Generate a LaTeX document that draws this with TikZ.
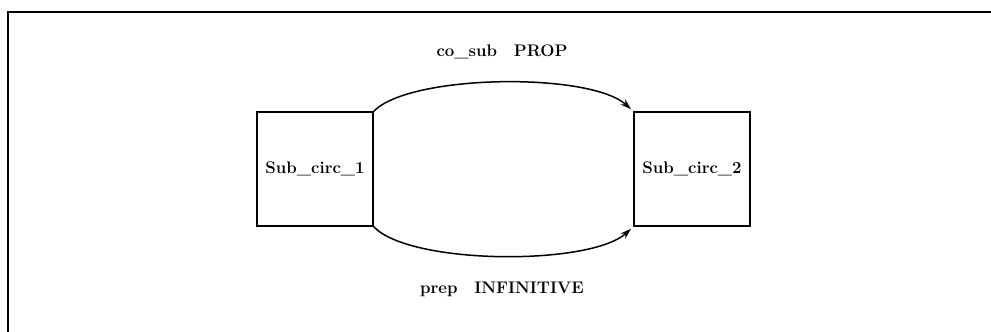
\documentclass[tikz,border=0pt]{standalone}
\usetikzlibrary{arrows.meta}
\begin{document}
\begin{tikzpicture}[x=1pt,y=-1pt,
  sbox/.style={draw,line width=1.5pt,minimum width=116pt,minimum height=114pt,inner sep=0pt,font=\fontsize{16.8}{20}\selectfont\bfseries},
  lbl/.style={font=\fontsize{16.8}{20}\selectfont\bfseries,inner sep=0pt},
  conn/.style={line width=1.5pt,-{Stealth[length=11pt,width=7pt]},shorten >=3pt}]
\useasboundingbox (0,0) rectangle (991,332);
\draw[line width=1.8pt] (8,332) -- (8,12) -- (991,12);
\node[sbox] (s1) at (315,169) {Sub\_circ\_1};
\node[sbox] (s2) at (692,169) {Sub\_circ\_2};
\node[lbl] (t1) at (502,52) {co\_sub\quad PROP};
\node[lbl] (t2) at (502,289) {prep\quad INFINITIVE};
\draw[conn] (s1.north east) .. controls (410,74) and (590,72) .. (s2.north west);
\draw[conn] (s1.south east) .. controls (410,265) and (590,266) .. (s2.south west);
\end{tikzpicture}
\end{document}
